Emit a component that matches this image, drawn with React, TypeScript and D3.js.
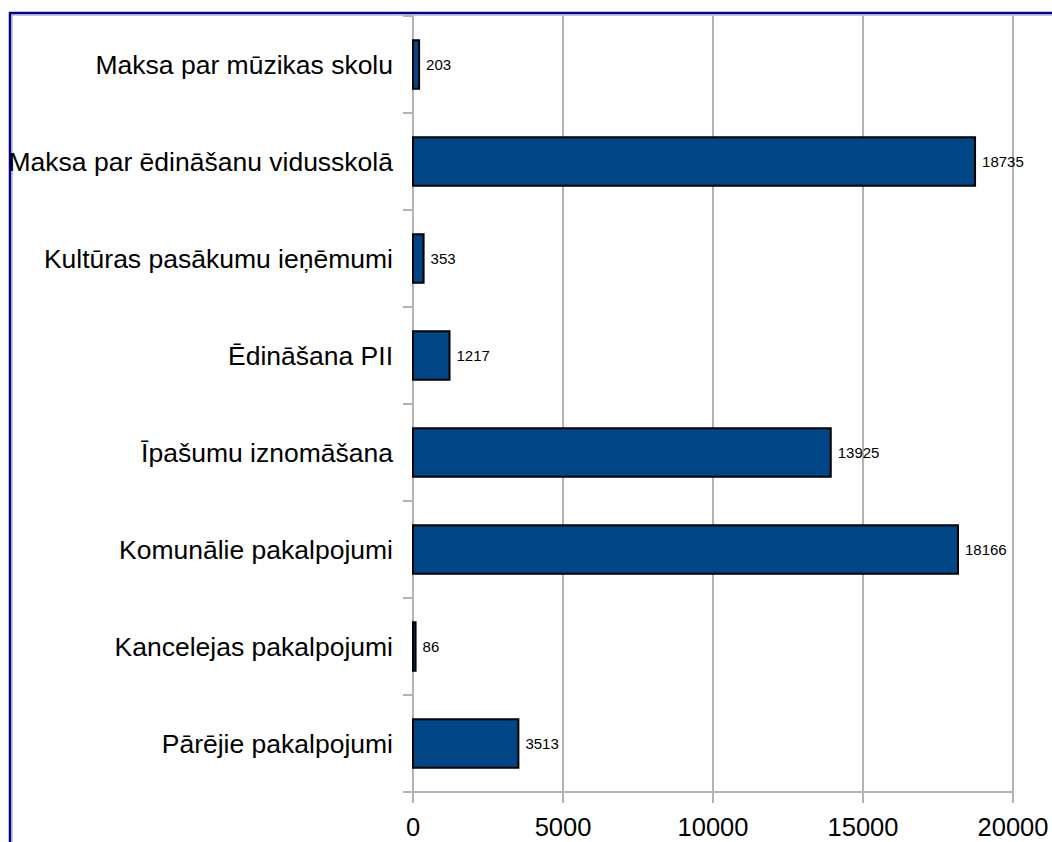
import React from "react";
import * as d3 from "d3";

const categories = [
  "Maksa par mūzikas skolu",
  "Maksa par ēdināšanu vidusskolā",
  "Kultūras pasākumu ieņēmumi",
  "Ēdināšana PII",
  "Īpašumu iznomāšana",
  "Komunālie pakalpojumi",
  "Kancelejas pakalpojumi",
  "Pārējie pakalpojumi",
];
const values = [203, 18735, 353, 1217, 13925, 18166, 86, 3513];
const xTicks = [0, 5000, 10000, 15000, 20000];

const W = 1052;
const H = 842;
const left = 413;
const right = 1013;
const top = 16;
const bottom = 792;
const font = "'Liberation Sans', Arial, sans-serif";

export default function App() {
  const x = d3.scaleLinear().domain([0, 20000]).range([left, right]);
  const y = d3.scaleBand().domain(categories).range([top, bottom]).paddingInner(0.5).paddingOuter(0.25);
  const bandStep = (bottom - top) / categories.length;
  const boundaries = d3.range(categories.length + 1).map((i) => top + i * bandStep);

  return (
    <svg width={W} height={H} style={{ position: "absolute", left: 0, top: 0, background: "#fff" }}>
      {/* frame */}
      <line x1={9} x2={W} y1={13} y2={13} stroke="#000088" strokeWidth={2.5} />
      <line x1={12} x2={W} y1={15} y2={15} stroke="#8c8cd0" strokeWidth={1} />
      <line x1={10} x2={10} y1={12} y2={H} stroke="#000088" strokeWidth={2.5} />
      <line x1={12} x2={12} y1={15} y2={H} stroke="#8c8cd0" strokeWidth={1} />

      {/* vertical gridlines */}
      {xTicks.map((t) => (
        <line key={"g" + t} x1={x(t)} x2={x(t)} y1={top} y2={bottom + 11} stroke="#b3b3b3" strokeWidth={2} />
      ))}
      {/* x axis line */}
      <line x1={left - 10} x2={right} y1={bottom} y2={bottom} stroke="#b3b3b3" strokeWidth={2} />
      {/* y ticks at band boundaries */}
      {boundaries.map((b, i) => (
        <line key={"yt" + i} x1={left - 10} x2={left} y1={b} y2={b} stroke="#b3b3b3" strokeWidth={2} />
      ))}

      {/* bars */}
      {categories.map((c, i) => (
        <rect
          key={"b" + i}
          x={x(0)}
          y={y(c)!}
          width={x(values[i]) - x(0)}
          height={y.bandwidth()}
          fill="#004586"
          stroke="#000"
          strokeWidth={2}
        />
      ))}

      {/* value labels */}
      {categories.map((c, i) => (
        <text
          key={"v" + i}
          x={x(values[i]) + 7}
          y={y(c)! + y.bandwidth() / 2}
          dy="0.35em"
          fontFamily={font}
          fontSize={15}
          fill="#000"
        >
          {values[i]}
        </text>
      ))}

      {/* category labels */}
      {categories.map((c, i) => (
        <text
          key={"c" + i}
          x={393}
          y={y(c)! + y.bandwidth() / 2}
          dy="0.35em"
          textAnchor="end"
          fontFamily={font}
          fontSize={26.5}
          fill="#000"
        >
          {c}
        </text>
      ))}

      {/* x tick labels */}
      {xTicks.map((t) => (
        <text key={"xl" + t} x={x(t)} y={836} textAnchor="middle" fontFamily={font} fontSize={25.5} fill="#000">
          {t}
        </text>
      ))}
    </svg>
  );
}
